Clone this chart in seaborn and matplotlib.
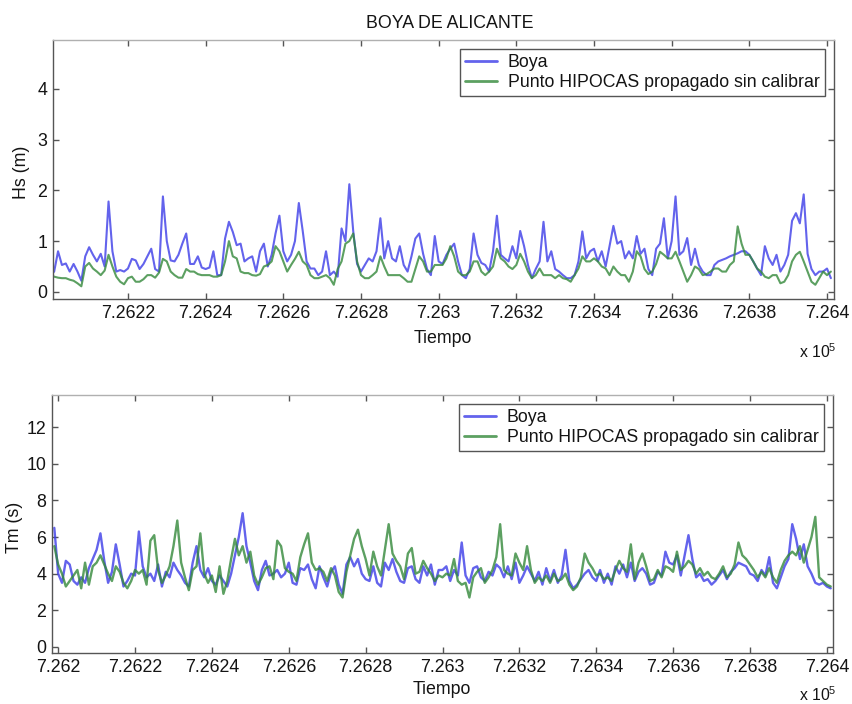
import numpy as np
import pandas as pd
import matplotlib
matplotlib.use("Agg")
import matplotlib.pyplot as plt
import seaborn as sns

# ---------------- data ----------------
title = "BOYA DE ALICANTE"
series_names = ["Boya", "Punto HIPOCAS propagado sin calibrar"]
x_label = "Tiempo"
hs_label = "Hs (m)"
tm_label = "Tm (s)"

# time axis: datenum-like days
hs_t0 = 726200          # first Hs sample (daily)
tm_t0 = 726199          # first Tm sample (daily)

hs_boya = [
    0.33, 0.40, 0.80, 0.53, 0.56, 0.40, 0.55, 0.40, 0.22, 0.70,
    0.88, 0.73, 0.60, 0.75, 0.50, 1.78, 0.80, 0.40, 0.43, 0.40,
    0.46, 0.65, 0.62, 0.45, 0.55, 0.70, 0.85, 0.45, 0.40, 1.88,
    1.00, 0.62, 0.60, 0.73, 0.95, 1.15, 0.55, 0.55, 0.70, 0.48,
    0.45, 0.48, 0.80, 0.33, 0.33, 1.05, 1.38, 1.18, 0.92, 0.95,
    0.60, 0.66, 0.70, 0.40, 0.80, 0.95, 0.50, 0.73, 1.15, 1.50,
    0.80, 0.60, 0.73, 1.00, 1.75, 1.20, 0.60, 0.46, 0.46, 0.33,
    0.40, 0.80, 0.33, 0.40, 0.30, 1.25, 1.00, 2.12, 1.20, 0.55,
    0.40, 0.53, 0.66, 0.60, 0.80, 1.45, 0.66, 1.00, 0.66, 0.60,
    0.90, 0.53, 0.40, 0.70, 1.05, 1.15, 0.75, 0.45, 0.33, 1.10,
    0.60, 0.55, 0.73, 0.85, 0.95, 0.60, 0.33, 0.27, 0.45, 1.15,
    0.73, 0.57, 0.53, 0.40, 0.80, 1.50, 0.73, 0.66, 0.60, 0.90,
    0.66, 1.20, 0.90, 0.53, 0.27, 0.45, 0.60, 1.38, 0.60, 0.80,
    0.45, 0.40, 0.33, 0.27, 0.27, 0.33, 0.60, 1.19, 0.66, 0.80,
    0.85, 0.60, 0.80, 0.50, 0.90, 1.30, 0.95, 1.00, 0.66, 0.80,
    0.66, 1.10, 0.75, 0.85, 0.45, 0.33, 0.85, 0.95, 1.45, 0.66,
    1.00, 1.88, 0.73, 0.80, 1.06, 0.53, 0.85, 0.53, 0.40, 0.33,
    0.33, 0.53, 0.60, 0.63, 0.66, 0.70, 0.73, 0.76, 0.80, 0.80,
    0.73, 0.60, 0.46, 0.33, 0.90, 0.66, 0.53, 0.73, 0.40, 0.53,
    0.73, 1.40, 1.55, 1.35, 1.92, 0.75, 0.45, 0.33, 0.40, 0.40,
    0.46, 0.27,
]
hs_hipocas = [
    0.33, 0.30, 0.28, 0.27, 0.27, 0.24, 0.22, 0.17, 0.11, 0.50,
    0.57, 0.46, 0.40, 0.33, 0.42, 0.73, 0.50, 0.30, 0.20, 0.15,
    0.27, 0.30, 0.20, 0.20, 0.25, 0.33, 0.33, 0.28, 0.38, 0.65,
    0.60, 0.40, 0.33, 0.28, 0.28, 0.45, 0.40, 0.40, 0.35, 0.33,
    0.33, 0.33, 0.30, 0.30, 0.33, 0.60, 1.00, 0.70, 0.66, 0.40,
    0.37, 0.37, 0.33, 0.32, 0.35, 0.50, 0.53, 0.60, 0.90, 0.80,
    0.60, 0.40, 0.53, 0.65, 0.79, 0.60, 0.53, 0.33, 0.27, 0.27,
    0.30, 0.33, 0.27, 0.14, 0.45, 0.60, 0.95, 1.00, 1.15, 0.60,
    0.33, 0.27, 0.27, 0.33, 0.40, 0.70, 0.50, 0.33, 0.33, 0.33,
    0.33, 0.27, 0.20, 0.20, 0.45, 0.70, 0.60, 0.40, 0.40, 0.53,
    0.53, 0.53, 0.66, 0.90, 0.70, 0.40, 0.33, 0.33, 0.40, 0.60,
    0.60, 0.40, 0.33, 0.40, 0.50, 0.85, 0.66, 0.60, 0.50, 0.45,
    0.53, 0.75, 0.60, 0.40, 0.27, 0.33, 0.46, 0.33, 0.33, 0.33,
    0.27, 0.33, 0.27, 0.25, 0.20, 0.33, 0.46, 0.70, 0.60, 0.60,
    0.66, 0.60, 0.50, 0.46, 0.33, 0.50, 0.40, 0.33, 0.33, 0.20,
    0.40, 0.80, 0.70, 0.45, 0.35, 0.40, 0.55, 0.79, 0.73, 0.66,
    0.66, 0.79, 0.60, 0.40, 0.20, 0.33, 0.50, 0.45, 0.33, 0.35,
    0.40, 0.46, 0.46, 0.40, 0.40, 0.53, 0.60, 1.29, 0.95, 0.73,
    0.73, 0.60, 0.46, 0.40, 0.30, 0.27, 0.33, 0.33, 0.17, 0.20,
    0.33, 0.60, 0.73, 0.79, 0.60, 0.40, 0.20, 0.14, 0.27, 0.40,
    0.33, 0.40,
]
tm_boya = [
    6.5,
    4.0, 3.5, 4.7, 4.5, 3.6, 3.4, 3.8, 3.5, 4.3, 4.8,
    5.3, 6.2, 4.7, 3.5, 4.1, 5.6, 4.5, 3.3, 3.6, 4.0,
    3.9, 6.3, 4.4, 3.8, 4.0, 3.6, 4.5, 3.3, 4.1, 3.8,
    4.6, 4.2, 3.9, 3.5, 3.3, 4.6, 5.5, 4.2, 3.8, 4.3,
    3.6, 3.4, 3.9, 3.6, 3.3, 4.0, 5.0, 6.0, 7.3, 5.5,
    4.6, 3.6, 3.1, 4.2, 4.7, 3.9, 4.0, 4.2, 3.8, 4.0,
    4.6, 3.5, 3.4, 4.3, 4.2, 4.5, 3.7, 3.2, 4.4, 3.8,
    3.3, 4.1, 4.4, 3.4, 2.9, 4.5, 4.9, 4.4, 4.8, 4.0,
    3.7, 3.6, 4.4, 3.5, 3.3, 4.6, 4.2, 4.8, 4.1, 3.6,
    3.5, 4.3, 4.4, 3.7, 3.5, 4.4, 3.9, 4.5, 3.4, 4.2,
    4.2, 4.4, 3.6, 4.2, 3.9, 5.7, 3.9, 3.5, 4.3, 4.4,
    3.8, 3.6, 4.1, 3.9, 4.5, 4.3, 3.8, 4.4, 3.7, 4.6,
    3.5, 3.9, 4.4, 4.0, 3.6, 4.1, 3.4, 4.3, 3.6, 4.2,
    3.5, 3.9, 5.3, 3.6, 3.2, 3.4, 3.7, 4.0, 4.2, 3.8,
    3.6, 4.2, 3.5, 4.0, 3.4, 4.4, 4.0, 4.5, 3.8, 4.6,
    3.6, 4.1, 4.3, 4.0, 3.4, 3.5, 4.1, 3.9, 5.2, 4.6,
    4.5, 5.0, 3.9, 5.0, 6.1, 4.8, 3.8, 4.0, 3.6, 3.7,
    3.4, 3.6, 3.9, 4.2, 3.7, 4.1, 4.3, 4.6, 4.5, 4.4,
    4.0, 3.9, 3.6, 4.2, 3.9, 4.9, 3.5, 3.2, 3.8, 4.4,
    4.8, 6.7, 5.9, 4.8, 5.6, 4.4, 4.0, 3.5, 3.4, 3.5,
    3.3, 3.2,
]
tm_hipocas = [
    5.5,
    4.5, 4.0, 3.3, 3.6, 3.9, 4.2, 3.2, 4.6, 3.4, 4.4,
    4.6, 5.0, 4.5, 4.0, 3.6, 4.4, 4.1, 3.5, 3.2, 3.6,
    4.2, 4.0, 4.2, 3.4, 5.8, 6.1, 4.2, 3.5, 3.9, 4.4,
    5.5, 6.9, 4.6, 3.8, 3.1, 4.2, 4.4, 6.2, 4.0, 3.5,
    3.9, 3.0, 4.4, 2.9, 3.6, 4.8, 5.9, 5.0, 5.5, 4.6,
    5.2, 3.9, 3.4, 3.8, 4.3, 4.4, 3.7, 5.8, 5.5, 4.3,
    4.1, 4.0, 3.6, 4.9, 5.6, 6.2, 4.6, 4.2, 4.3, 4.1,
    3.6, 4.3, 3.9, 3.0, 2.7, 4.1, 5.0, 5.9, 6.4, 5.5,
    4.8, 3.9, 5.2, 4.4, 3.9, 5.3, 6.7, 5.1, 4.7, 4.4,
    3.7, 5.1, 5.4, 4.0, 4.1, 4.7, 4.3, 4.0, 3.6, 3.9,
    3.8, 4.0, 3.9, 4.8, 3.6, 3.4, 3.5, 2.7, 3.8, 4.1,
    4.3, 3.5, 3.8, 4.2, 4.9, 6.7, 4.2, 4.0, 3.9, 5.1,
    4.6, 4.2, 5.5, 4.2, 3.5, 3.8, 3.6, 3.9, 3.5, 4.0,
    3.6, 3.7, 4.0, 3.4, 3.1, 3.3, 3.8, 5.1, 4.6, 4.3,
    3.9, 4.0, 3.7, 3.8, 3.6, 4.2, 4.7, 4.3, 4.1, 5.6,
    3.7, 4.6, 5.1, 4.4, 3.6, 3.7, 4.2, 3.8, 4.4, 4.3,
    4.1, 5.2, 4.2, 4.4, 4.7, 4.5, 4.0, 4.3, 3.9, 4.1,
    3.8, 3.7, 4.0, 4.4, 3.8, 4.0, 4.5, 5.7, 5.0, 4.8,
    4.5, 4.2, 3.8, 4.1, 3.8, 4.3, 3.8, 3.5, 4.2, 4.7,
    5.0, 5.2, 5.0, 5.5, 4.6, 5.3, 6.0, 7.1, 3.8, 3.6,
    3.4, 3.3,
]

hs_xticks = [726220, 726240, 726260, 726280, 726300, 726320, 726340, 726360, 726380, 726400]
tm_xticks = [726200, 726220, 726240, 726260, 726280, 726300, 726320, 726340, 726360, 726380, 726400]
hs_yticks = [0, 1, 2, 3, 4]
tm_yticks = [0, 2, 4, 6, 8, 10, 12]

# ---------------- build tables ----------------
def long_table(t0, a, b):
    t = t0 + np.arange(len(a))
    return pd.DataFrame({
        "t": np.concatenate([t, t]),
        "v": np.concatenate([a, b]),
        "serie": [series_names[0]] * len(a) + [series_names[1]] * len(b),
    })

df_hs = long_table(hs_t0, hs_boya, hs_hipocas)
df_tm = long_table(tm_t0, tm_boya, tm_hipocas)

# ---------------- style ----------------
sns.set_theme(style="white")
plt.rcParams["font.family"] = ["Liberation Sans", "DejaVu Sans"]
plt.rcParams["mathtext.fontset"] = "custom"
plt.rcParams["mathtext.rm"] = "Liberation Sans"
txt = "#141414"
FS = 12.8
palette = {series_names[0]: "#3c3ce8", series_names[1]: "#33883a"}

W, H = 853, 704
fig = plt.figure(figsize=(W / 100, H / 100), dpi=100)
fig.patch.set_facecolor("white")

def px_axes(l, r, t, b):
    return fig.add_axes([l / W, 1 - b / H, (r - l) / W, (b - t) / H])

ax1 = px_axes(53, 834, 40, 299)
ax2 = px_axes(52, 833, 395, 653)

def draw(ax, df, xlim, ylim, xticks, yticks, lw):
    sns.lineplot(data=df, x="t", y="v", hue="serie", palette=palette,
                 estimator=None, sort=False, linewidth=lw, alpha=0.8, ax=ax)
    ax.set_xlim(*xlim)
    ax.set_ylim(*ylim)
    ax.set_xticks(xticks)
    ax.set_xticklabels([f"{v / 1e5:g}" for v in xticks])
    ax.set_yticks(yticks)
    ax.set_yticklabels([str(v) for v in yticks])
    ax.tick_params(direction="in", length=4, width=1, colors="#555555",
                   labelcolor=txt, labelsize=FS, pad=4,
                   top=True, right=True, bottom=True, left=True)
    for s in ax.spines.values():
        s.set_visible(True)
        s.set_color("#555555")
        s.set_linewidth(1.0)
    ax.spines["top"].set_color("#b0b0b0")
    ax.set_facecolor("white")
    handles, labels = ax.get_legend_handles_labels()
    for h in handles:
        h.set_linewidth(2.0)
    leg = ax.legend(handles, labels, loc="upper right", fontsize=FS,
                    frameon=True, fancybox=False, framealpha=1,
                    edgecolor="#555555", borderaxespad=0.5, borderpad=0.3,
                    handlelength=1.8, handletextpad=0.6, labelspacing=0.15)
    leg.get_frame().set_linewidth(1.0)
    for t in leg.get_texts():
        t.set_color(txt)

draw(ax1, df_hs, (726200.7, 726401.8), (-0.14, 4.96), hs_xticks, hs_yticks, 1.5)
draw(ax2, df_tm, (726198.4, 726401.6), (-0.33, 13.75), tm_xticks, tm_yticks, 1.7)

# labels
ax1.set_title(title, fontsize=FS, color=txt, x=0.508, y=1.064, va="center", pad=0)
for ax, yl, xlab_y, ylab_x, ylab_y in [
    (ax1, hs_label, -0.151, -0.0397, 0.49),
    (ax2, tm_label, -0.143, -0.0474, 0.488),
]:
    ax.set_xlabel(x_label, fontsize=FS, color=txt)
    ax.set_ylabel(yl, fontsize=FS, color=txt)
    ax.xaxis.label.set_va("center")
    ax.yaxis.label.set_va("center")
    ax.xaxis.set_label_coords(0.4994, xlab_y)
    ax.yaxis.set_label_coords(ylab_x, ylab_y)

# offset text "x 10^5"
fig.text(818 / W, 1 - 352 / H, r"x 10$^5$", fontsize=FS - 1.5, color=txt, ha="center", va="center")
fig.text(818 / W, 1 - 695 / H, r"x 10$^5$", fontsize=FS - 1.5, color=txt, ha="center", va="center")

fig.savefig("out.png", dpi=100, facecolor="white")
